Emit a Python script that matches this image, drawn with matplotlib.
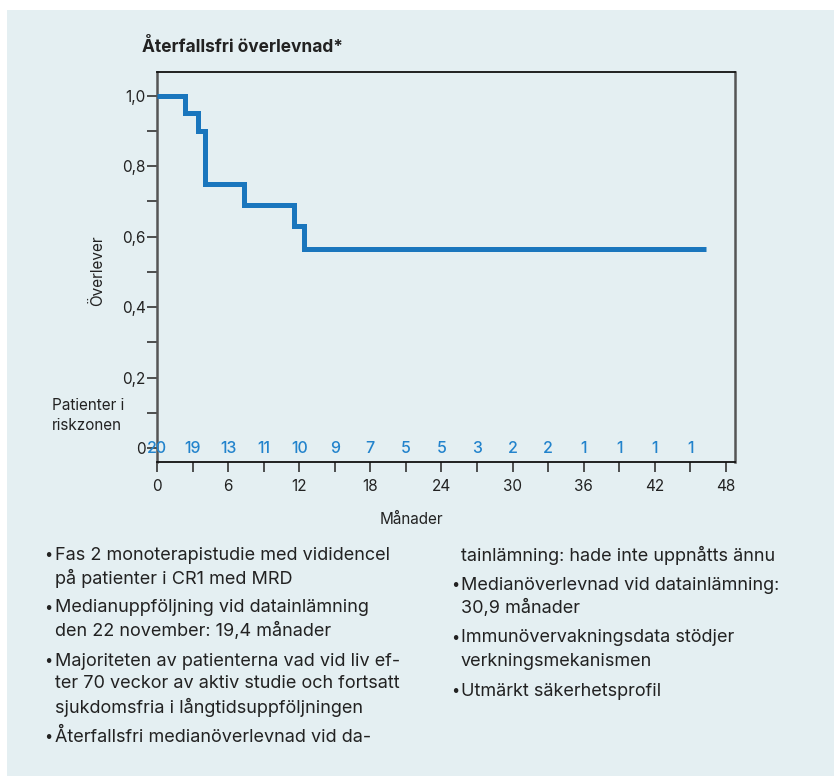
import matplotlib
matplotlib.use("Agg")
import matplotlib.pyplot as plt
from matplotlib.patches import Rectangle

plt.rcParams['font.family'] = ['Inter', 'DejaVu Sans']

# ---- data ----
km_times = [0, 2.4, 3.5, 4.05, 7.3, 11.55, 12.4, 46.3]
km_surv = [1.0, 0.95, 0.90, 0.75, 0.69, 0.63, 0.565, 0.565]
risk_months = [0, 3, 6, 9, 12, 15, 18, 21, 24, 27, 30, 33, 36, 39, 42, 45]
risk_counts = [20, 19, 13, 11, 10, 9, 7, 5, 5, 3, 2, 2, 1, 1, 1, 1]
x_major = [0, 6, 12, 18, 24, 30, 36, 42, 48]
x_minor = [3, 9, 15, 21, 27, 33, 39, 45]
y_major = [0, 0.2, 0.4, 0.6, 0.8, 1.0]
y_major_labels = ["0", "0,2", "0,4", "0,6", "0,8", "1,0"]
y_minor = [0.1, 0.3, 0.5, 0.7, 0.9]
title = "Återfallsfri överlevnad*"
ylabel = "Överlever"
xlabel = "Månader"
risk_label = ["Patienter i", "riskzonen"]
left_bullets = [
    ["Fas 2 monoterapistudie med vididencel", "på patienter i CR1 med MRD"],
    ["Medianuppföljning vid datainlämning", "den 22 november: 19,4 månader"],
    ["Majoriteten av patienterna vad vid liv ef-", "ter 70 veckor av aktiv studie och fortsatt",
     "sjukdomsfria i långtidsuppföljningen"],
    ["Återfallsfri medianöverlevnad vid da-"],
]
right_bullets = [
    [None, "tainlämning: hade inte uppnåtts ännu"],
    ["Medianöverlevnad vid datainlämning:", "30,9 månader"],
    ["Immunövervakningsdata stödjer", "verkningsmekanismen"],
    ["Utmärkt säkerhetsprofil"],
]

W, H = 834, 776
BG = "#e4eff2"
BLUE = "#1a76bd"
RISK_BLUE = "#2283cc"
TXT = "#222222"

fig = plt.figure(figsize=(W / 100, H / 100), dpi=100)
fig.patch.set_facecolor("white")
fig.patches.append(Rectangle((7 / W, 0), 1, (H - 10) / H, transform=fig.transFigure,
                             facecolor=BG, edgecolor="none", zorder=-10))

def fx(x):
    return x / W

def fy(y):
    return 1 - y / H

ax = fig.add_axes([fx(157), fy(462), (735 - 157) / W, (462 - 72) / H])
ax.set_facecolor("none")
ax.set_xlim(0, 48.76)
ax.set_ylim(-0.0397, 1.0667)

ax.step(km_times, km_surv, where="post", color=BLUE, lw=3.6, solid_capstyle="butt",
        solid_joinstyle="miter", zorder=3)

for sp in ["top", "bottom"]:
    ax.spines[sp].set_color("#111111")
    ax.spines[sp].set_linewidth(1.3)
for sp in ["left", "right"]:
    ax.spines[sp].set_color("#555555")
    ax.spines[sp].set_linewidth(1.8)

ax.set_xticks(x_major)
ax.set_xticks(x_minor, minor=True)
ax.set_xticklabels([str(v) for v in x_major])
ax.set_yticks(y_major)
ax.set_yticks(y_minor, minor=True)
ax.set_yticklabels(y_major_labels)
ax.tick_params(axis="both", which="both", direction="out", length=7, width=1.2,
               color="#333333", labelsize=11, labelcolor=TXT)
ax.tick_params(axis="x", which="both", pad=5)
ax.tick_params(axis="y", which="both", pad=1)

for m, c in zip(risk_months, risk_counts):
    ax.text(m, 0, str(c), color=RISK_BLUE, fontsize=11.5, ha="center", va="center",
            fontweight="medium", zorder=4)

fig.text(fx(411), fy(520), xlabel, fontsize=11, color=TXT, ha="center", va="center")
fig.text(fx(98), fy(271), ylabel, fontsize=11, color=TXT, ha="center", va="center",
         rotation=90)
fig.text(fx(52), fy(405), risk_label[0], fontsize=11, color=TXT, ha="left", va="center")
fig.text(fx(52), fy(425), risk_label[1], fontsize=11, color=TXT, ha="left", va="center")
fig.text(fx(142), fy(47), title, fontsize=12.5, fontweight="bold", color=TXT,
         ha="left", va="center")

def draw_column(bullets, x_bullet, x_text, y_start):
    y = y_start
    for b in bullets:
        for i, line in enumerate(b):
            if line is not None:
                if i == 0:
                    fig.text(fx(x_bullet), fy(y), "•", fontsize=10.5, color=TXT,
                             ha="left", va="center")
                fig.text(fx(x_text), fy(y), line, fontsize=13, color=TXT,
                         ha="left", va="center")
            y += 23
        y += 7

draw_column(left_bullets, 44, 55, 555)
draw_column(right_bullets, 451, 461, 532)

fig.savefig("out.png", dpi=100, facecolor=fig.get_facecolor())
